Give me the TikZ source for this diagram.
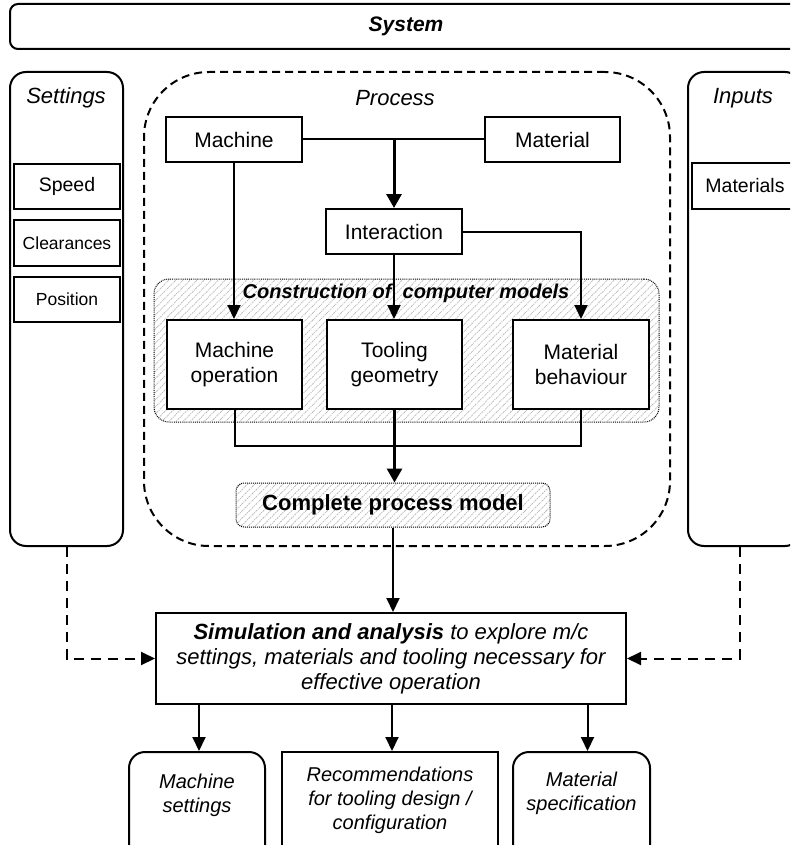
\documentclass[tikz,border=0pt]{standalone}
\usepackage{fontspec}
\setmainfont{Liberation Sans}
\usetikzlibrary{arrows.meta,patterns.meta}

\begin{document}
\begin{tikzpicture}[x=1pt,y=-1pt,
		box/.style={draw,line width=2pt,fill=white,align=center,inner sep=0pt,font=\fontsize{21}{25}\selectfont},
		col/.style={draw,line width=2pt,rounded corners=16pt,minimum width=113pt,minimum height=474pt},
		hatch/.style={draw,densely dotted,line width=1pt,pattern={Lines[angle=45,distance=5pt,line width=0.9pt]},pattern color=gray!55},
		lbl/.style={font=\fontsize{22}{26}\selectfont\itshape},
		outtxt/.style={align=center,font=\fontsize{20}{24}\selectfont\itshape},
		arr/.style={line width=2pt,-{Triangle[width=13pt,length=14pt]}},
		bigarr/.style={line width=3pt,-{Triangle[width=15pt,length=14pt]}},
		ln/.style={line width=2pt},
		dasharr/.style={arr,dash pattern=on 10pt off 7pt}]
		\useasboundingbox (0,0) rectangle (790,845);
		\clip (0,0) rectangle (790,845);
		\node[box,rounded corners=8pt,minimum width=792pt,minimum height=45pt] (sys) at (406,26.5) {\textbf{\textit{System}}};
		\node[col] (set) at (66.5,309) {};
		\node[col] (inp) at (744.5,309) {};
		\node[draw,line width=2pt,dash pattern=on 8pt off 5pt,rounded corners=65pt,minimum width=526pt,minimum height=474pt] (proc) at (407,309) {};
		\node[lbl] (setlbl) at (66,98) {Settings};
		\node[lbl] (proclbl) at (395,98) {Process};
		\node[lbl] (inplbl) at (743,98) {Inputs};
		\node[box,minimum width=106pt,minimum height=45pt,font=\fontsize{19.5}{23}\selectfont] (speed) at (67,186.5) {Speed};
		\node[box,minimum width=106pt,minimum height=46pt,font=\fontsize{17.5}{21}\selectfont] (clear) at (67,243) {Clearances};
		\node[box,minimum width=106pt,minimum height=45pt,font=\fontsize{17.5}{21}\selectfont] (pos) at (67,299.5) {Position};
		\node[box,minimum width=106pt,minimum height=46pt,font=\fontsize{19.5}{23}\selectfont] (mats) at (745,186) {Materials};
		\node[box,minimum width=136pt,minimum height=45pt] (mach) at (234,139.5) {Machine};
		\node[box,minimum width=135pt,minimum height=45pt] (mat) at (552.5,139.5) {Material};
		\node[box,minimum width=136pt,minimum height=45pt] (inter) at (394,231.5) {Interaction};
		\node[hatch,rounded corners=15pt,minimum width=505pt,minimum height=143pt] (models) at (406.5,350.5) {};
		\node[font=\fontsize{20}{24}\selectfont\bfseries\itshape] (modlbl) at (406,293) {Construction of\ \ computer models};
		\node[box,minimum width=135pt,minimum height=89pt] (mop) at (234.5,364.5) {Machine\\operation};
		\node[box,minimum width=135pt,minimum height=89pt] (tool) at (394.5,364.5) {Tooling\\geometry};
		\node[box,minimum width=136pt,minimum height=89pt] (mbeh) at (581,364.5) {Material\\behaviour};
		\node[hatch,rounded corners=8pt,minimum width=314pt,minimum height=44pt,font=\fontsize{22}{26}\selectfont\bfseries] (cpm) at (393,505) {Complete process model};
		\node[box,minimum width=470pt,minimum height=91pt,font=\fontsize{22}{25}\selectfont\itshape] (sim) at (391,658.5) {\textbf{Simulation and analysis} to explore m/c\\settings, materials and tooling necessary for\\effective operation};
		\node[box,rounded corners=16pt,anchor=north,minimum width=136pt,minimum height=130pt] (out1) at (197,751) {};
		\node[box,anchor=north,minimum width=216pt,minimum height=130pt] (out2) at (390,751) {};
		\node[box,rounded corners=16pt,anchor=north,minimum width=137pt,minimum height=130pt] (out3) at (581.5,751) {};
		\node[outtxt] (out1t) at (197,795) {Machine\\settings};
		\node[outtxt] (out2t) at (390,800) {Recommendations\\for tooling design /\\configuration};
		\node[outtxt] (out3t) at (581.5,793) {Material\\specification};
		\draw[ln] (mach) -- (mat);
		\draw[bigarr] (inter.north |- mach.east) -- (inter.north);
		\draw[arr] (mach.south) -- (mach.south |- mop.north);
		\draw[arr] (inter.south) -- (inter.south |- tool.north);
		\draw[arr] (inter.east) -| (mbeh.north);
		\draw[ln] (mop.south) -- ++(0,36) -| (mbeh.south);
		\draw[bigarr] (tool.south) -- (tool.south |- cpm.north);
		\draw[arr] (cpm.south) -- (cpm.south |- sim.north);
		\draw[dasharr] (set.south) |- (sim.west);
		\draw[dasharr] ([xshift=-5pt]inp.south) |- (sim.east);
		\draw[arr] ([xshift=2pt]sim.south -| out1.north) -- ([xshift=2pt]out1.north);
		\draw[arr] ([xshift=2pt]sim.south -| out2.north) -- ([xshift=2pt]out2.north);
		\draw[arr] ([xshift=6pt]sim.south -| out3.north) -- ([xshift=6pt]out3.north);
	\end{tikzpicture}
\end{document}
